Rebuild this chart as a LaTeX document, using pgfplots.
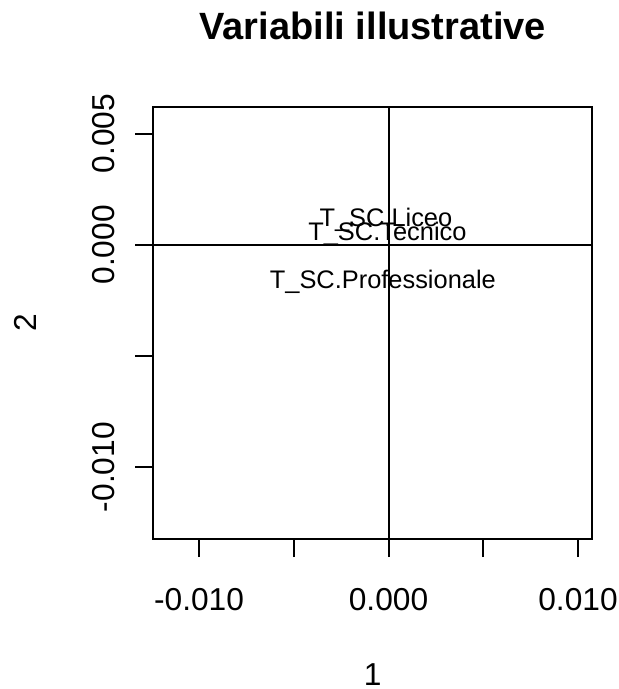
\documentclass[border=0pt]{standalone}
\usepackage{pgfplots}
\pgfplotsset{compat=1.18}
\usepackage{fontspec}
\setmainfont{Liberation Sans}
\newcommand\tickfont{\fontsize{31.7}{36}\selectfont}
\newcommand\titlefont{\fontsize{38}{44}\selectfont\bfseries}
\newcommand\labfont{\fontsize{25.4}{30}\selectfont}
\begin{document}
\begin{tikzpicture}[x=1pt,y=1pt]
\path[use as bounding box] (0,0) rectangle (619,689);
\begin{axis}[
  at={(153.3pt,150pt)}, anchor=south west,
  scale only axis, width=439pt, height=432.3pt,
  xmin=-0.012414, xmax=0.010753,
  ymin=-0.013236, ymax=0.006213,
  axis line style={line width=2pt, black},
  tick align=outside, tick pos=left,
  major tick length=18pt,
  major tick style={line width=2pt, black},
  xtick={-0.01,-0.005,0,0.005,0.01},
  xticklabels={-0.010,,0.000,,0.010},
  ytick={-0.01,-0.005,0,0.005},
  yticklabels={-0.010,,0.000,0.005},
  scaled ticks=false,
  xticklabel style={font=\tickfont, inner sep=0pt, anchor=north, yshift=-31.6pt},
  yticklabel style={font=\tickfont, inner sep=0pt, rotate=90, anchor=south, xshift=0pt, yshift=20pt},
  xlabel={1}, ylabel={2},
  xlabel style={font=\tickfont, at={(axis description cs:0.5,-0.3146)}, anchor=center},
  ylabel style={font=\tickfont, at={(axis description cs:-0.2923,0.5)}, anchor=center, rotate=0},
  title={Variabili illustrative},
  title style={font=\titlefont, at={(axis description cs:0.5,1.1427)}, anchor=base},
  clip=true,
]
\addplot[black, line width=2pt] coordinates {(-0.012414,0) (0.010753,0)};
\addplot[black, line width=2pt] coordinates {(0,-0.013236) (0,0.006213)};
\addplot[draw=none, mark=none, nodes near coords, point meta=explicit symbolic,
  nodes near coords style={anchor=base, font=\labfont, inner sep=0pt, yshift=-9.1pt, text=black}]
  table[meta=label, row sep=\\]{
x y label\\
-0.00014 0.001228 T\_SC.Liceo\\
-0.00006 0.000589 T\_SC.Tecnico\\
-0.00030 -0.00157 T\_SC.Professionale\\
};
\end{axis}
\end{tikzpicture}
\end{document}
